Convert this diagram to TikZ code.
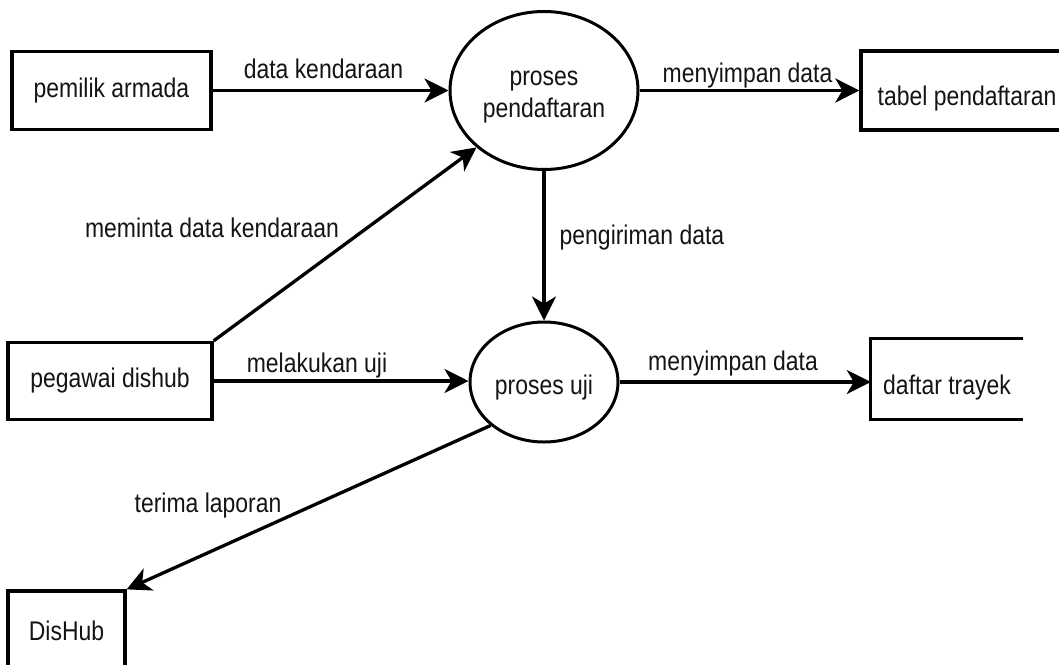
\documentclass[tikz,border=0pt]{standalone}
\usepackage{fontspec}
\setmainfont{Liberation Sans}[FakeStretch=0.85]
\usetikzlibrary{arrows.meta,shapes.geometric}
\begin{document}
\begin{tikzpicture}[x=1pt,y=-1pt,
  every node/.style={font=\fontsize{27}{32}\selectfont, text=black!92, inner sep=0pt},
  entbox/.style={draw=black, line width=3.3pt},
  proc/.style={draw=black, ellipse, line width=3pt, align=center},
  flow/.style={draw=black, line width=3.3pt, -{Stealth[length=24pt,width=24pt,inset=7pt]}},
  lbl/.style={anchor=base}
]
\fill[white] (0,0) rectangle (1059,664);
\useasboundingbox (0,0) rectangle (1059,664);

% entities and processes
\node[entbox, minimum width=199pt, minimum height=78pt] (pem) at (111.5,90.5) {pemilik armada};
\node[proc, minimum width=188pt, minimum height=158pt] (pp) at (544,90.5) {\rule{0pt}{26.7pt}proses\\pendaftaran};
\node[entbox, minimum width=212pt, minimum height=79pt, text height=34.7pt] (tab) at (967,90.5) {tabel pendaftaran};
\node[entbox, minimum width=204pt, minimum height=77pt] (peg) at (110,381) {pegawai dishub};
\node[proc, minimum width=148pt, minimum height=120pt, text height=29.7pt] (uji) at (544,382) {proses uji};
\node[minimum width=152pt, minimum height=80pt, text height=35.7pt] (dt) at (947,379) {daftar trayek};
\draw[line width=3.3pt] (dt.north east) -- (dt.north west) -- (dt.south west) -- (dt.south east);
\node[entbox, minimum width=117pt, minimum height=79pt] (dh) at (66.5,630.5) {DisHub};

% flows
\draw[flow] (pem) -- (pp);
\draw[flow] (pp) -- (tab);
\draw[flow] (peg.north east) -- (pp.south west);
\draw[flow] (pp.south) -- (uji.north);
\draw[flow] (peg.east) -- (peg.east -| uji.west);
\draw[flow] (uji.east) -- (uji.east -| dt.west);
\draw[flow] (uji.south west) -- (dh.north east);

% labels
\node[lbl] (l1) at (323.5,78) {data kendaraan};
\node[lbl] (l2) at (747.5,82) {menyimpan data};
\node[lbl] (l3) at (212,237) {meminta data kendaraan};
\node[lbl] (l4) at (642,244) {pengiriman data};
\node[lbl] (l5) at (317,372) {melakukan uji};
\node[lbl] (l6) at (733,370) {menyimpan data};
\node[lbl] (l7) at (208,512) {terima laporan};
\end{tikzpicture}
\end{document}
